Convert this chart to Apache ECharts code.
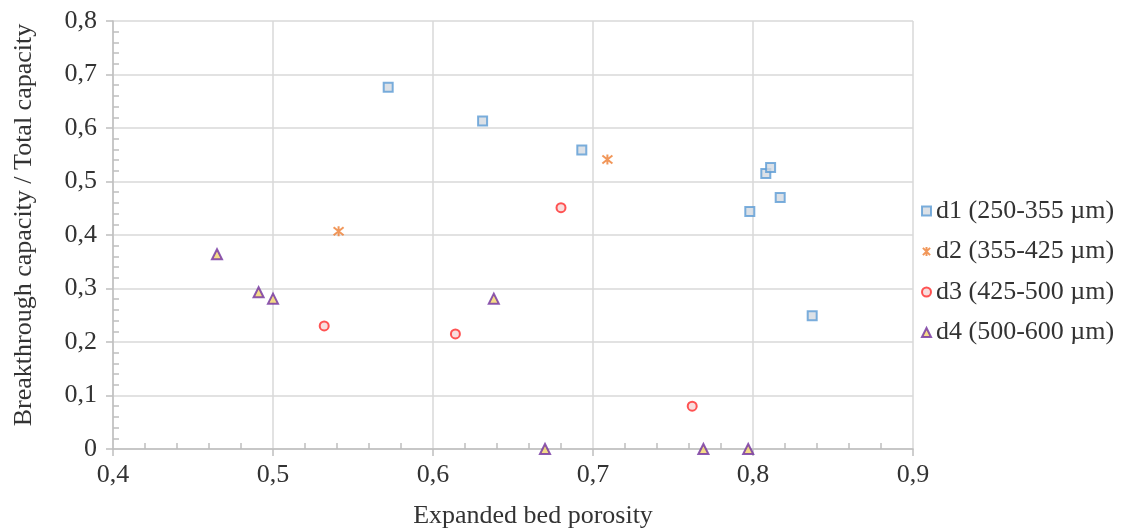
<!DOCTYPE html>
<html>
<head>
<meta charset="utf-8">
<script src="https://cdn.jsdelivr.net/npm/echarts@6/dist/echarts.min.js"></script>
<style>
  html, body { margin: 0; padding: 0; background: #fff; }
  #chart { width: 1126px; height: 532px; }
</style>
</head>
<body>
<div id="chart"></div>
<script>
// Expanded bed porosity (x) vs. breakthrough / total capacity (y), by particle size class
const seriesNames = ['d1 (250-355 µm)', 'd2 (355-425 µm)', 'd3 (425-500 µm)', 'd4 (500-600 µm)'];

const d1Porosity = [0.572, 0.631, 0.693, 0.808, 0.811, 0.817, 0.798, 0.837];
const d1Capacity = [0.676, 0.613, 0.559, 0.515, 0.526, 0.470, 0.444, 0.249];

const d2Porosity = [0.541, 0.709];
const d2Capacity = [0.407, 0.541];

const d3Porosity = [0.680, 0.532, 0.614, 0.762];
const d3Capacity = [0.451, 0.230, 0.215, 0.080];

const d4Porosity = [0.465, 0.491, 0.500, 0.638, 0.670, 0.769, 0.797];
const d4Capacity = [0.364, 0.293, 0.281, 0.281, 0, 0, 0];

const xTickLabels = ['0,4', '0,5', '0,6', '0,7', '0,8', '0,9'];
const yTickLabels = ['0', '0,1', '0,2', '0,3', '0,4', '0,5', '0,6', '0,7', '0,8'];

const X_MIN = 0.4, X_MAX = 0.9, Y_MIN = 0, Y_MAX = 0.8, STEP = 0.1;

function pairs(xs, ys) { return xs.map((x, i) => [x, ys[i]]); }

const FONT = 'Liberation Serif';
const FONT_SIZE = 26;
const AXIS_COLOR = '#bfbfbf';
const GRID_COLOR = '#d9d9d9';
const TEXT_COLOR = '#333333';

const asterisk = 'path://M0,-5L0,5M-4,-4L4,4M-4,4L4,-4';

const chart = echarts.init(document.getElementById('chart'), null, { renderer: 'canvas' });

const grid = { left: 113, right: 213, top: 21, bottom: 83, containLabel: false, outerBoundsMode: 'none' };

// Main axes: labels, outward major ticks, grid lines
const xMain = {
  type: 'value', min: X_MIN, max: X_MAX, interval: STEP,
  name: 'Expanded bed porosity', nameLocation: 'middle', nameGap: 54,
  nameTextStyle: { fontFamily: FONT, fontSize: FONT_SIZE, color: TEXT_COLOR, padding: [0, 0, 0, 40] },
  axisLine: { show: true, lineStyle: { color: AXIS_COLOR, width: 1.5 } },
  axisTick: { show: true, inside: false, length: 7, lineStyle: { color: AXIS_COLOR, width: 1.5 } },
  axisLabel: {
    fontFamily: FONT, fontSize: FONT_SIZE, color: TEXT_COLOR, margin: 13,
    formatter: v => xTickLabels[Math.round((v - X_MIN) / STEP)]
  },
  splitLine: { show: true, lineStyle: { color: GRID_COLOR, width: 1.5 } }
};
const yMain = {
  type: 'value', min: Y_MIN, max: Y_MAX, interval: STEP,
  name: 'Breakthrough capacity / Total capacity', nameLocation: 'middle', nameGap: 76, nameRotate: 90,
  nameTextStyle: { fontFamily: FONT, fontSize: FONT_SIZE, color: TEXT_COLOR, padding: [0, 0, 0, 20] },
  axisLine: { show: true, lineStyle: { color: AXIS_COLOR, width: 1.5 } },
  axisTick: { show: true, inside: false, length: 7, lineStyle: { color: AXIS_COLOR, width: 1.5 } },
  axisLabel: {
    fontFamily: FONT, fontSize: FONT_SIZE, color: TEXT_COLOR, margin: 16,
    formatter: v => yTickLabels[Math.round((v - Y_MIN) / STEP)]
  },
  splitLine: { show: true, lineStyle: { color: GRID_COLOR, width: 1.5 } }
};
// Overlay axes carrying only the inward minor ticks
const xMinor = {
  type: 'value', min: X_MIN, max: X_MAX, interval: STEP, position: 'bottom',
  axisLine: { show: false }, axisLabel: { show: false }, splitLine: { show: false },
  axisTick: { show: false, inside: true },
  minorTick: { show: true, splitNumber: 5, length: 6, lineStyle: { color: AXIS_COLOR, width: 1.5 } }
};
const yMinor = {
  type: 'value', min: Y_MIN, max: Y_MAX, interval: STEP, position: 'left',
  axisLine: { show: false }, axisLabel: { show: false }, splitLine: { show: false },
  axisTick: { show: false, inside: true },
  minorTick: { show: true, splitNumber: 5, length: 6, lineStyle: { color: AXIS_COLOR, width: 1.5 } }
};

const markerStyles = [
  { symbol: 'rect', symbolSize: 9, itemStyle: { color: '#d3d9e1', borderColor: '#5b9bd5', borderWidth: 2 } },
  { symbol: asterisk, symbolSize: 10, itemStyle: { color: 'rgba(0,0,0,0)', borderColor: '#ed7d31', borderWidth: 2 } },
  { symbol: 'circle', symbolSize: 9, itemStyle: { color: '#f6d5d5', borderColor: '#ff2b2b', borderWidth: 2 } },
  { symbol: 'triangle', symbolSize: 10, itemStyle: { color: '#f2d36b', borderColor: '#7030a0', borderWidth: 2 } }
];
const seriesData = [
  pairs(d1Porosity, d1Capacity),
  pairs(d2Porosity, d2Capacity),
  pairs(d3Porosity, d3Capacity),
  pairs(d4Porosity, d4Capacity)
];

chart.setOption({
  animation: false,
  backgroundColor: '#ffffff',
  grid: grid,
  xAxis: [xMain, xMinor],
  yAxis: [yMain, yMinor],
  legend: {
    orient: 'vertical', left: 921, top: 198, itemGap: 14.5,
    itemWidth: 9, itemHeight: 9, padding: 0,
    textStyle: { fontFamily: FONT, fontSize: FONT_SIZE, color: TEXT_COLOR },
    data: seriesNames
  },
  series: seriesNames.map((name, i) => Object.assign({
    name: name, type: 'scatter', xAxisIndex: 0, yAxisIndex: 0,
    data: seriesData[i], clip: false
  }, markerStyles[i]))
});
</script>
</body>
</html>
